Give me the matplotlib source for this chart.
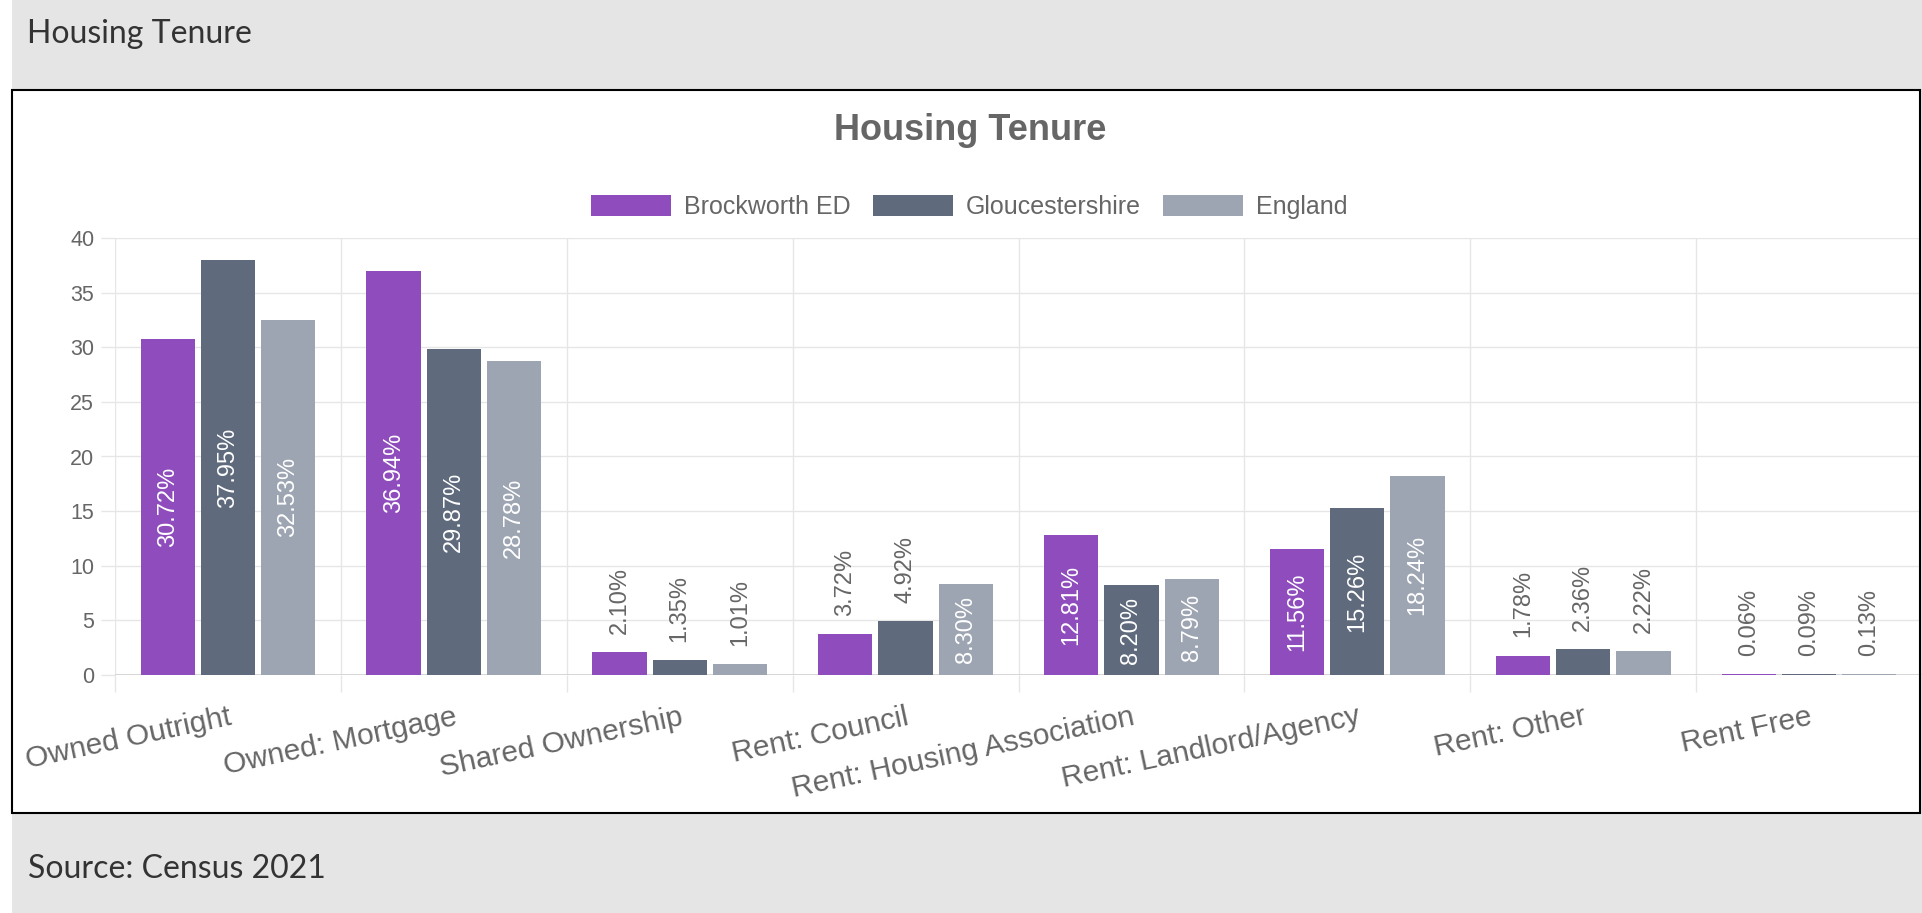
import matplotlib
matplotlib.use("Agg")
import matplotlib.pyplot as plt
from matplotlib.patches import Rectangle
import numpy as np

# data (Census 2021, % of households)
categories = ["Owned Outright", "Owned: Mortgage", "Shared Ownership", "Rent: Council",
              "Rent: Housing Association", "Rent: Landlord/Agency", "Rent: Other", "Rent Free"]
brockworth = [30.72, 36.94, 2.10, 3.72, 12.81, 11.56, 1.78, 0.06]
gloucestershire = [37.95, 29.87, 1.35, 4.92, 8.20, 15.26, 2.36, 0.09]
england = [32.53, 28.78, 1.01, 8.30, 8.79, 18.24, 2.22, 0.13]
series_names = ["Brockworth ED", "Gloucestershire", "England"]
series_colors = ["#8e4cbd", "#5f6a7d", "#9ea5b2"]
y_ticks = [0, 5, 10, 15, 20, 25, 30, 35, 40]

plt.rcParams['font.family'] = ['Liberation Sans', 'DejaVu Sans']

W, H = 1922, 913
fig = plt.figure(figsize=(W / 100, H / 100), dpi=100)
fig.patch.set_facecolor('white')


def fx(px):
    return px / W


def fy(py):
    return 1 - py / H


# page panels
fig.add_artist(Rectangle((fx(12), 0), 1 - fx(12), 1, transform=fig.transFigure,
                         facecolor='#e5e5e5', edgecolor='none', zorder=-10))
box = (fx(12), fy(813), fx(1920) - fx(12), fy(90) - fy(813))
fig.add_artist(Rectangle(box[:2], box[2], box[3], transform=fig.transFigure,
                         facecolor='white', edgecolor='none', zorder=-9))
fig.add_artist(Rectangle(box[:2], box[2], box[3], transform=fig.transFigure,
                         fill=False, edgecolor='black', lw=1.5, zorder=10))

fig.text(fx(27), fy(43), "Housing Tenure", family=['Lato', 'DejaVu Sans'],
         fontsize=23, color='#333333', va='baseline')
fig.text(fx(28), fy(878), "Source: Census 2021", family=['Lato', 'DejaVu Sans'],
         fontsize=23, color='#333333', va='baseline')

ax = fig.add_axes([fx(115), fy(675), 1 - fx(115), fy(238) - fy(675)])
ax.set_facecolor('none')

x = np.arange(len(categories))
slot = 0.8 / 3
for j, (vals, name, col) in enumerate(zip([brockworth, gloucestershire, england],
                                          series_names, series_colors)):
    pos = x + (j - 1) * slot
    ax.bar(pos, vals, width=0.24, color=col, label=name, zorder=2)
    for p, v in zip(pos, vals):
        txt = f"{v:.2f}%"
        if v > 6.5:
            ax.text(p, v / 2, txt, rotation=90, ha='center', va='center',
                    color='white', fontsize=17, zorder=3)
        else:
            ax.annotate(txt, (p, v), xytext=(0, 13), textcoords='offset points',
                        rotation=90, ha='center', va='bottom', color='#666666',
                        fontsize=17, zorder=3)

ax.set_xlim(-0.5, len(categories) - 0.5)
ax.set_ylim(0, 40)
ax.set_yticks(y_ticks)
ax.set_xticks(x)
ax.set_xticklabels(categories, rotation=12, ha='right', rotation_mode='anchor')
ax.set_xticks(np.arange(-0.5, len(categories), 1), minor=True)

grid_col = '#e6e6e6'
ax.tick_params(axis='x', which='major', length=0, pad=20, labelsize=21.5, labelcolor='#666666')
ax.tick_params(axis='x', which='minor', length=12, color=grid_col, width=1)
ax.tick_params(axis='y', length=10, color=grid_col, width=1, pad=5, labelsize=15.5,
               labelcolor='#666666')
ax.grid(axis='y', which='major', color=grid_col, lw=1)
ax.grid(axis='x', which='minor', color=grid_col, lw=1)
ax.set_axisbelow(True)
for s in ax.spines.values():
    s.set_visible(False)
ax.axhline(0, color='#d0d0d0', lw=1.2, zorder=1)

fig.text(fx(970), fy(130), "Housing Tenure", ha='center', va='center',
         fontsize=26, fontweight='bold', color='#666666')
fig.legend(loc='center', bbox_to_anchor=(fx(969), fy(207)), ncol=3, frameon=False,
           fontsize=18, handlelength=3.2, handleheight=0.92, handletextpad=0.52,
           columnspacing=0.88, labelcolor='#666666')

fig.savefig('out.png', dpi=100)
